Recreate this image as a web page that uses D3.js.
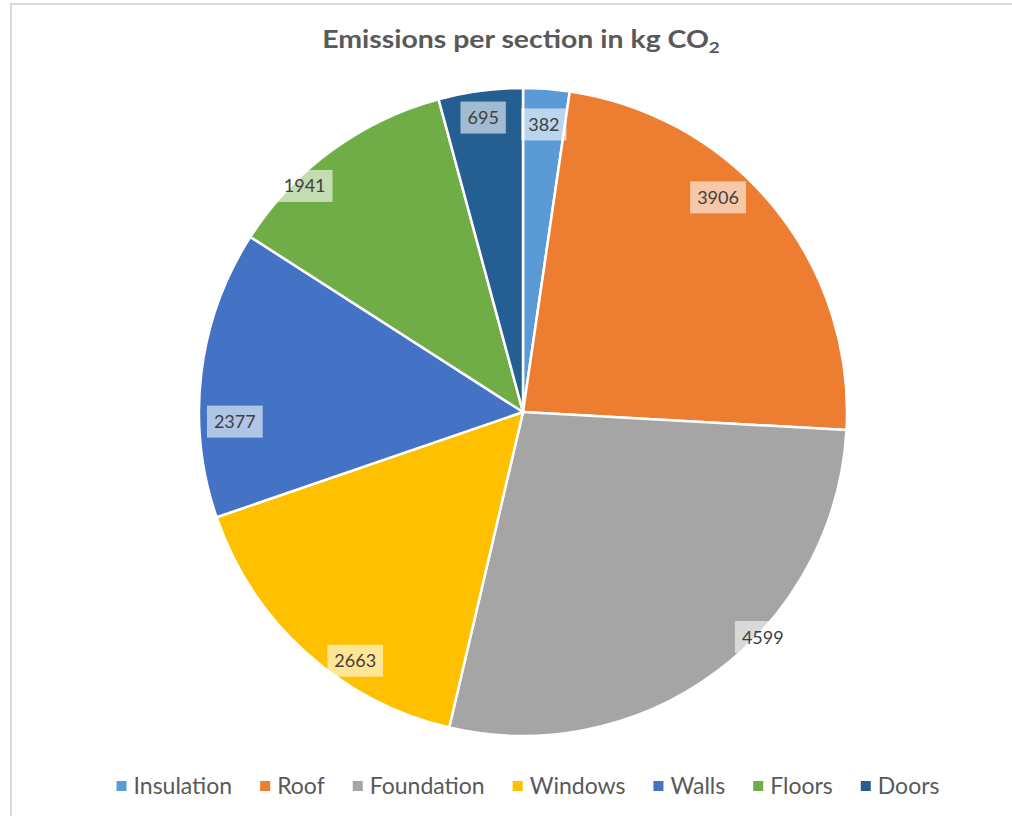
<!DOCTYPE html>
<html>
<head>
<meta charset="utf-8">
<script src="https://cdn.jsdelivr.net/npm/d3@7/dist/d3.min.js"></script>
<style>
  html, body { margin: 0; padding: 0; background: #ffffff; }
  svg { display: block; }
</style>
</head>
<body>
<svg id="chart" width="1012" height="816"></svg>
<script>
// Emission figures per building section (kg CO2)
const sections = ["Insulation", "Roof", "Foundation", "Windows", "Walls", "Floors", "Doors"];
const emissions = [382, 3906, 4599, 2663, 2377, 1941, 695];
const sectionColors = ["#5B9BD5", "#ED7D31", "#A5A5A5", "#FFC000", "#4472C4", "#70AD47", "#255E91"];

// Data label placement within each slice: fraction of the slice's sweep, fraction of the radius
const labelAngleFrac = [0.5, 0.4, 0.4, 0.36, 0.33, 0.315, 0.49];
const labelRadiusFrac = [0.89, 0.895, 1.015, 0.926, 0.89, 0.97, 0.917];

const W = 1012, H = 816;
const cx = 523, cy = 412, radius = 324;
const font = "Lato, 'Open Sans', sans-serif";

const svg = d3.select("#chart");

// Chart area frame
svg.append("rect")
  .attr("x", 11).attr("y", 4)
  .attr("width", W + 10).attr("height", H + 10)
  .attr("fill", "#ffffff")
  .attr("stroke", "#d9d9d9").attr("stroke-width", 2);

// Title with subscript, widened to span the header
const titleG = svg.append("g");
const title = titleG.append("text")
  .attr("text-anchor", "middle")
  .attr("font-family", font)
  .attr("font-weight", "bold")
  .attr("font-size", 24)
  .attr("fill", "#595959");
title.append("tspan").text("Emissions per section in kg CO");
title.append("tspan").attr("font-size", 16).attr("dy", 5).text("2");
const titleW = title.node().getComputedTextLength();
titleG.attr("transform", `translate(521,48) scale(${398 / titleW},1)`);

const rows = sections.map((s, i) => ({ name: s, value: emissions[i], color: sectionColors[i], i }));

const pie = d3.pie().sort(null).value(d => d.value);
const arcs = pie(rows);
const arc = d3.arc().innerRadius(0).outerRadius(radius);

const g = svg.append("g").attr("transform", `translate(${cx},${cy})`);

g.selectAll("path.slice")
  .data(arcs)
  .join("path")
  .attr("class", "slice")
  .attr("d", arc)
  .attr("fill", d => d.data.color)
  .attr("stroke", "#ffffff")
  .attr("stroke-width", 2.5)
  .attr("stroke-linejoin", "round");

// Data labels on translucent boxes
const labels = g.selectAll("g.label")
  .data(arcs)
  .join("g")
  .attr("class", "label")
  .attr("transform", d => {
    const k = d.data.i;
    const a = d.startAngle + labelAngleFrac[k] * (d.endAngle - d.startAngle);
    const r = labelRadiusFrac[k] * radius;
    return `translate(${r * Math.sin(a)},${-r * Math.cos(a)})`;
  });

labels.append("rect")
  .attr("fill", "#ffffff")
  .attr("fill-opacity", 0.58);

labels.append("text")
  .attr("text-anchor", "middle")
  .attr("dy", "0.36em")
  .attr("font-family", font)
  .attr("font-size", 18)
  .attr("fill", "#404040")
  .text(d => d3.format("d")(d.data.value));

labels.each(function () {
  const t = d3.select(this).select("text").node();
  const w = t.getComputedTextLength();
  const bw = w + 14, bh = 32;
  d3.select(this).select("rect")
    .attr("x", -bw / 2).attr("y", -bh / 2)
    .attr("width", bw).attr("height", bh);
});

// Legend along the bottom
const legend = svg.append("g").attr("transform", "translate(0,786)");
const items = legend.selectAll("g.item")
  .data(rows)
  .join("g")
  .attr("class", "item");

items.append("rect")
  .attr("width", 10).attr("height", 10)
  .attr("y", -5)
  .attr("fill", d => d.color);

items.append("text")
  .attr("x", 17)
  .attr("dy", "0.35em")
  .attr("font-family", font)
  .attr("font-size", 23)
  .attr("fill", "#595959")
  .text(d => d.name);

// Lay legend entries side by side, centred
const gap = 28;
let widths = [];
items.each(function () {
  widths.push(17 + d3.select(this).select("text").node().getComputedTextLength());
});
const total = d3.sum(widths) + gap * (widths.length - 1);
let x0 = 528 - total / 2;
items.attr("transform", (d, i) => {
  const x = x0;
  x0 += widths[i] + gap;
  return `translate(${x},0)`;
});
</script>
</body>
</html>
